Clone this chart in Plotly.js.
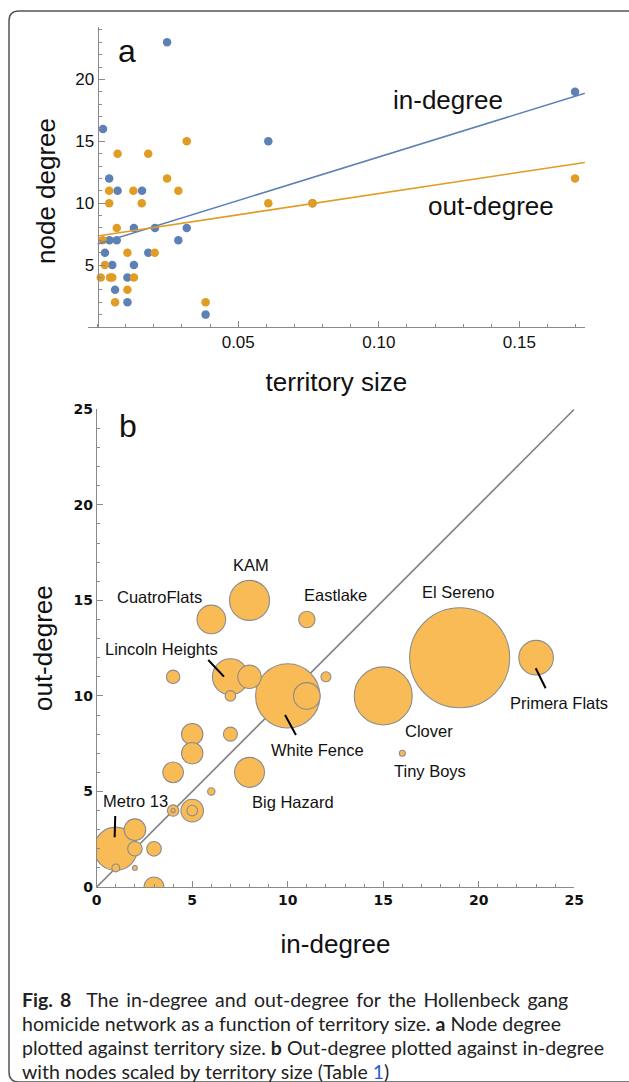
<!DOCTYPE html>
<html><head><meta charset="utf-8">
<script src="https://cdn.plot.ly/plotly-3.0.1.min.js"></script>
<style>html,body{margin:0;padding:0;background:#fff}#chart{width:629px;height:1082px}</style>
</head><body><div id="chart"></div>
<script>
// ---------- Panel a: node degree vs territory size ----------
const territoryIn = [0.0247,0.1698,0.0019,0.0607,0.0041,0.0071,0.0158,0.0764,0.0129,0.0204,0.0317,0.0287,0.0042,0.0068,0.0026,0.0180,0.0052,0.0129,0.0106,0.0062,0.0106,0.0384];
const inDegreeA   = [23,19,16,15,12,11,11,10,8,8,8,7,7,7,6,6,5,5,4,3,2,1];
const territoryOut = [0.0317,0.0071,0.0180,0.0247,0.1698,0.0041,0.0127,0.0287,0.0041,0.0157,0.0607,0.0764,0.0068,0.0018,0.0106,0.0203,0.0026,0.0011,0.0044,0.0052,0.0129,0.0106,0.0062,0.0384];
const outDegreeA   = [15,14,14,12,12,11,11,11,10,10,10,10,8,7,6,6,5,4,4,4,4,3,2,2];
const inFit  = {intercept: 6.70, slope: 70.3};
const outFit = {intercept: 7.35, slope: 34.3};
const xTickValsA = [0.05, 0.10, 0.15];
const xTickTextA = ['0.05', '0.10', '0.15'];
const yTickValsA = [5, 10, 15, 20];

// ---------- Panel b: out-degree vs in-degree, sized by territory ----------
const gangNames = ['El Sereno','Primera Flats','Clover','White Fence','','Tiny Boys','Big Hazard','KAM','CuatroFlats','Eastlake','Lincoln Heights','','','','','','','','','','','','','','Metro 13','','','','','',''];
const inDegree  = [19,23,15,10,11,16,8,8,6,11,7,8,4,7,12,5,5,7,4,6,4,4,5,5,1,1,2,2,2,3,3];
const outDegree = [12,12,10,10,10,7,6,15,14,14,11,11,11,10,11,8,7,8,6,5,4,4,4,4,2,1,3,2,1,2,0];
const territory = [0.1698,0.0242,0.0612,0.0740,0.0155,0.0019,0.0189,0.0313,0.0175,0.0071,0.0260,0.0125,0.0053,0.0038,0.0035,0.0108,0.0108,0.0056,0.0102,0.0024,0.0042,0.0013,0.0118,0.0038,0.0359,0.0026,0.0110,0.0059,0.0015,0.0060,0.0097];
const axisMaxB = 25;

// ---------- helpers ----------
const W = 629, H = 1082;
const fx = p => p / W;
const fy = p => 1 - p / H;
const BLUE = '#5E81B5', ORANGE = '#E19C24';
const AXC = '#8a8a8a';
const SANS = 'Liberation Sans, Arial, sans-serif';

const xMinA = -0.0035, xMaxA = 0.1733;

// bubble scale: radius grows with sqrt(territory)
const bubbleDiam = t => 2 * Math.max(1.8, -2.56 + 127.6 * Math.sqrt(t));

// order bubbles largest first so small ones stay visible
const order = territory.map((t, i) => i).sort((a, b) => territory[b] - territory[a]);

const traces = [
  {x: territoryIn, y: inDegreeA, type: 'scatter', mode: 'markers', xaxis: 'x', yaxis: 'y',
   marker: {color: BLUE, size: 8.5}, showlegend: false},
  {x: territoryOut, y: outDegreeA, type: 'scatter', mode: 'markers', xaxis: 'x', yaxis: 'y',
   marker: {color: ORANGE, size: 8.5}, showlegend: false},
  {x: [0, xMaxA], y: [inFit.intercept, inFit.intercept + inFit.slope * xMaxA], type: 'scatter', mode: 'lines',
   xaxis: 'x', yaxis: 'y', line: {color: BLUE, width: 1.6}, showlegend: false},
  {x: [0, xMaxA], y: [outFit.intercept, outFit.intercept + outFit.slope * xMaxA], type: 'scatter', mode: 'lines',
   xaxis: 'x', yaxis: 'y', line: {color: ORANGE, width: 1.6}, showlegend: false},
  {x: [0, axisMaxB], y: [0, axisMaxB], type: 'scatter', mode: 'lines', xaxis: 'x2', yaxis: 'y2',
   line: {color: '#7f7f7f', width: 1.6}, showlegend: false},
  {x: order.map(i => inDegree[i]), y: order.map(i => outDegree[i]), text: order.map(i => gangNames[i]),
   type: 'scatter', mode: 'markers', xaxis: 'x2', yaxis: 'y2',
   marker: {color: '#F9BB55', size: order.map(i => bubbleDiam(territory[i])), sizemode: 'diameter',
            opacity: 1, line: {color: '#8c8c8c', width: 1.1}}, showlegend: false}
];

const tickFontA = {family: SANS, size: 17, color: '#111'};
const tickFontB = {family: 'DejaVu Sans, sans-serif', size: 14, color: '#111', weight: 'bold'};
const titleFont = {family: SANS, size: 26, color: '#111'};

const labelPos = {
  'KAM': [251, 564], 'CuatroFlats': [159, 596], 'Eastlake': [335.5, 594], 'El Sereno': [458.3, 591],
  'Lincoln Heights': [161.7, 648], 'Primera Flats': [559.3, 702], 'Clover': [428.8, 730],
  'White Fence': [317.5, 749], 'Tiny Boys': [430, 770], 'Big Hazard': [293, 801], 'Metro 13': [135, 799.5]
};

const annotations = [];
gangNames.forEach(n => {
  if (n && labelPos[n]) {
    annotations.push({text: n, xref: 'paper', yref: 'paper', x: fx(labelPos[n][0]), y: fy(labelPos[n][1] + 1),
      xanchor: 'center', yanchor: 'middle', showarrow: false, font: {family: SANS, size: 16.5, color: '#111'}});
  }
});
annotations.push(
  {text: 'a', xref: 'paper', yref: 'paper', x: fx(127), y: fy(51), xanchor: 'center', yanchor: 'middle', showarrow: false, font: {family: SANS, size: 32, color: '#111'}},
  {text: 'b', xref: 'paper', yref: 'paper', x: fx(128), y: fy(426), xanchor: 'center', yanchor: 'middle', showarrow: false, font: {family: SANS, size: 32, color: '#111'}},
  {text: 'in-degree', xref: 'paper', yref: 'paper', x: fx(448), y: fy(100), xanchor: 'center', yanchor: 'middle', showarrow: false, font: titleFont},
  {text: 'out-degree', xref: 'paper', yref: 'paper', x: fx(491), y: fy(206), xanchor: 'center', yanchor: 'middle', showarrow: false, font: titleFont},
  {text: 'node degree', xref: 'paper', yref: 'paper', x: fx(46), y: fy(191), xanchor: 'center', yanchor: 'middle', textangle: -90, showarrow: false, font: titleFont}
);
const capFont = {family: 'Lato, sans-serif', size: 19.5, color: '#222'};
const ts = '&#8201;';
const capLines = [
  ('<b>Fig. 8</b>  The in-degree and out-degree for the Hollenbeck gang').split(' ').join(' ' + ts),
  'homicide network as a function of territory size. <b>a</b> Node degree',
  'plotted against territory size. <b>b</b> Out-degree plotted against in-degree',
  'with nodes scaled by territory size (Table <span style="color:#2a5bd7">1</span>)'
];
capLines.forEach((t, i) => annotations.push({text: t, xref: 'paper', yref: 'paper', x: fx(20), y: fy(999 + i * 24.2),
  xanchor: 'left', yanchor: 'middle', showarrow: false, font: capFont}));

const callout = (x0, y0, x1, y1) => ({type: 'line', xref: 'x2', yref: 'y2', x0, y0, x1, y1, line: {color: '#000', width: 2}});
const frame = `M ${fx(640)},${fy(11)} L ${fx(19)},${fy(11)} Q ${fx(9)},${fy(11)} ${fx(9)},${fy(21)} L ${fx(9)},${fy(1072)} Q ${fx(9)},${fy(1082)} ${fx(19)},${fy(1082)} L ${fx(640)},${fy(1082)}`;

const layout = {
  width: W, height: H, margin: {l: 0, r: 0, t: 0, b: 0},
  paper_bgcolor: '#fff', plot_bgcolor: 'rgba(0,0,0,0)', showlegend: false,
  xaxis: {domain: [fx(87.8), fx(584.9)], range: [xMinA, xMaxA], anchor: 'y', showline: true, linecolor: AXC, linewidth: 1,
    ticks: 'inside', ticklen: 6, tickcolor: AXC, tickvals: xTickValsA, ticktext: xTickTextA, tickfont: tickFontA,
    minor: {ticks: 'inside', ticklen: 3.5, tickcolor: AXC, tickmode: 'linear', tick0: 0, dtick: 0.01},
    showgrid: false, zeroline: false, title: {text: 'territory size', font: titleFont, standoff: 21}},
  yaxis: {domain: [fy(327), fy(27.4)], range: [0, 24.2], anchor: 'free', position: fx(97.6), showline: true, linecolor: AXC, linewidth: 1,
    ticks: 'inside', ticklen: 6, tickcolor: AXC, tickvals: yTickValsA, tickfont: tickFontA,
    minor: {ticks: 'inside', ticklen: 3.5, tickcolor: AXC, tickmode: 'linear', tick0: 0, dtick: 1},
    showgrid: false, zeroline: false},
  xaxis2: {domain: [fx(96.7), fx(574.3)], range: [0, axisMaxB], anchor: 'y2', showline: true, linecolor: AXC, linewidth: 1,
    ticks: 'inside', ticklen: 6, tickcolor: AXC, tickmode: 'linear', tick0: 0, dtick: 5, tickfont: tickFontB,
    minor: {ticks: 'inside', ticklen: 3.5, tickcolor: AXC, tickmode: 'linear', tick0: 0, dtick: 1},
    showgrid: false, zeroline: false, title: {text: 'in-degree', font: titleFont, standoff: 28}},
  yaxis2: {domain: [fy(887), fy(409.3)], range: [0, axisMaxB], anchor: 'x2', showline: true, linecolor: AXC, linewidth: 1,
    ticks: 'inside', ticklen: 6, tickcolor: AXC, tickmode: 'linear', tick0: 0, dtick: 5, tickfont: tickFontB,
    minor: {ticks: 'inside', ticklen: 3.5, tickcolor: AXC, tickmode: 'linear', tick0: 0, dtick: 1},
    showgrid: false, zeroline: false, title: {text: 'out-degree', font: titleFont, standoff: 13}},
  annotations: annotations,
  shapes: [
    callout(5.84, 11.88, 6.66, 11.01),
    callout(9.86, 9.00, 10.43, 7.95),
    callout(22.98, 11.45, 23.50, 10.40),
    callout(0.97, 3.72, 0.94, 2.60),
    {type: 'path', xref: 'paper', yref: 'paper', path: frame, line: {color: '#555', width: 1.5}}
  ]
};

Plotly.newPlot('chart', traces, layout, {displayModeBar: false, staticPlot: true});
</script>
</body></html>
